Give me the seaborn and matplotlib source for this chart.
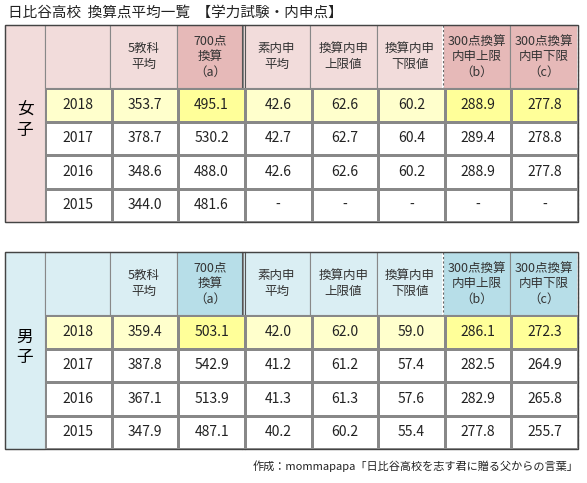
import numpy as np
import pandas as pd
import seaborn as sns
import matplotlib.pyplot as plt
from matplotlib.colors import ListedColormap
from matplotlib.patches import Rectangle

plt.rcParams['font.family'] = ['Noto Sans CJK JP', 'DejaVu Sans']

title = "日比谷高校  換算点平均一覧  【学力試験・内申点】"
footer = "作成：mommapapa「日比谷高校を志す君に贈る父からの言葉」"
headers = ["5教科\n平均", "700点\n換算\n（a）", "素内申\n平均", "換算内申\n上限値", "換算内申\n下限値",
           "300点換算\n内申上限\n（b）", "300点換算\n内申下限\n（c）"]
years = ["2018", "2017", "2016", "2015"]
girls = [["353.7", "495.1", "42.6", "62.6", "60.2", "288.9", "277.8"],
         ["378.7", "530.2", "42.7", "62.7", "60.4", "289.4", "278.8"],
         ["348.6", "488.0", "42.6", "62.6", "60.2", "288.9", "277.8"],
         ["344.0", "481.6", "-", "-", "-", "-", "-"]]
boys = [["359.4", "503.1", "42.0", "62.0", "59.0", "286.1", "272.3"],
        ["387.8", "542.9", "41.2", "61.2", "57.4", "282.5", "264.9"],
        ["367.1", "513.9", "41.3", "61.3", "57.6", "282.9", "265.8"],
        ["347.9", "487.1", "40.2", "60.2", "55.4", "277.8", "255.7"]]

W, H = 587, 483
fig = plt.figure(figsize=(W / 100, H / 100), dpi=100)
main = fig.add_axes([0, 0, 1, 1])
main.set_xlim(0, W)
main.set_ylim(H, 0)
main.axis('off')

x_edges = [45, 110, 177, 243, 310, 377, 443, 510, 578]
left = 5
hl_cols = [2, 6, 7]  # 700点, 300b, 300c among the 8 body columns

main.text(8, 13, title, fontsize=10.5, va='center', ha='left', color='#222')
main.text(578, 466, footer, fontsize=8, va='center', ha='right', color='#222')


def draw_table(top, label, light, dark, data):
    head_h, row_h = 63, 33.5
    body_top = top + head_h
    bottom = body_top + 4 * row_h
    main.add_patch(Rectangle((left, top), x_edges[0] - left, bottom - top, fc=light, ec='#888', lw=0.8))
    main.add_patch(Rectangle((x_edges[0], top), x_edges[1] - x_edges[0], head_h, fc=light, ec='#888', lw=0.8))
    main.text((left + x_edges[0]) / 2, (top + bottom) / 2 - 3, label[0] + "\n" + label[1],
              fontsize=12, ha='center', va='center', linespacing=1.3)
    for i, h in enumerate(headers):
        x0, x1 = x_edges[i + 1], x_edges[i + 2]
        fc = dark if (i + 1) in hl_cols else light
        main.add_patch(Rectangle((x0, top), x1 - x0, head_h, fc=fc, ec='#888', lw=0.8))
        main.text((x0 + x1) / 2, top + head_h / 2, h, fontsize=9, ha='center', va='center',
                  linespacing=1.25, color='#333')

    # body cells via heatmap
    codes = np.zeros((4, 8))
    codes[0, :] = 1
    codes[0, hl_cols] = 2
    labels = np.array([[y] + row for y, row in zip(years, data)])
    ax = fig.add_axes([x_edges[0] / W, 1 - bottom / H, (x_edges[-1] - x_edges[0]) / W, (bottom - body_top) / H])
    sns.heatmap(pd.DataFrame(codes), ax=ax, cmap=ListedColormap(['#ffffff', '#ffffcc', '#ffff99']),
                vmin=0, vmax=2, annot=labels, fmt='', cbar=False, linewidths=0.8, linecolor='#888',
                annot_kws={'fontsize': 10, 'color': '#222'}, xticklabels=False, yticklabels=False)
    ax.set_xlim(0, 8)
    ax.set_ylim(4, 0)
    for xe in (242, 245):
        main.plot([xe, xe], [top, bottom], color='#555', lw=0.8, zorder=5)
    for k in (5, 7):
        xe = x_edges[k + 1]
        main.plot([xe, xe], [top, bottom], color='white', lw=1.4, zorder=5)
        main.plot([xe, xe], [top, bottom], color='#666', lw=0.8, ls=(0, (2, 2)), zorder=6)
    main.add_patch(Rectangle((left, top), x_edges[-1] - left, bottom - top, fill=False, ec='#444', lw=1, zorder=7))


draw_table(25, "女子", '#f2dcdb', '#e6b9b8', girls)
draw_table(252, "男子", '#daeef3', '#b7dee8', boys)

fig.savefig('out.png', dpi=100)
